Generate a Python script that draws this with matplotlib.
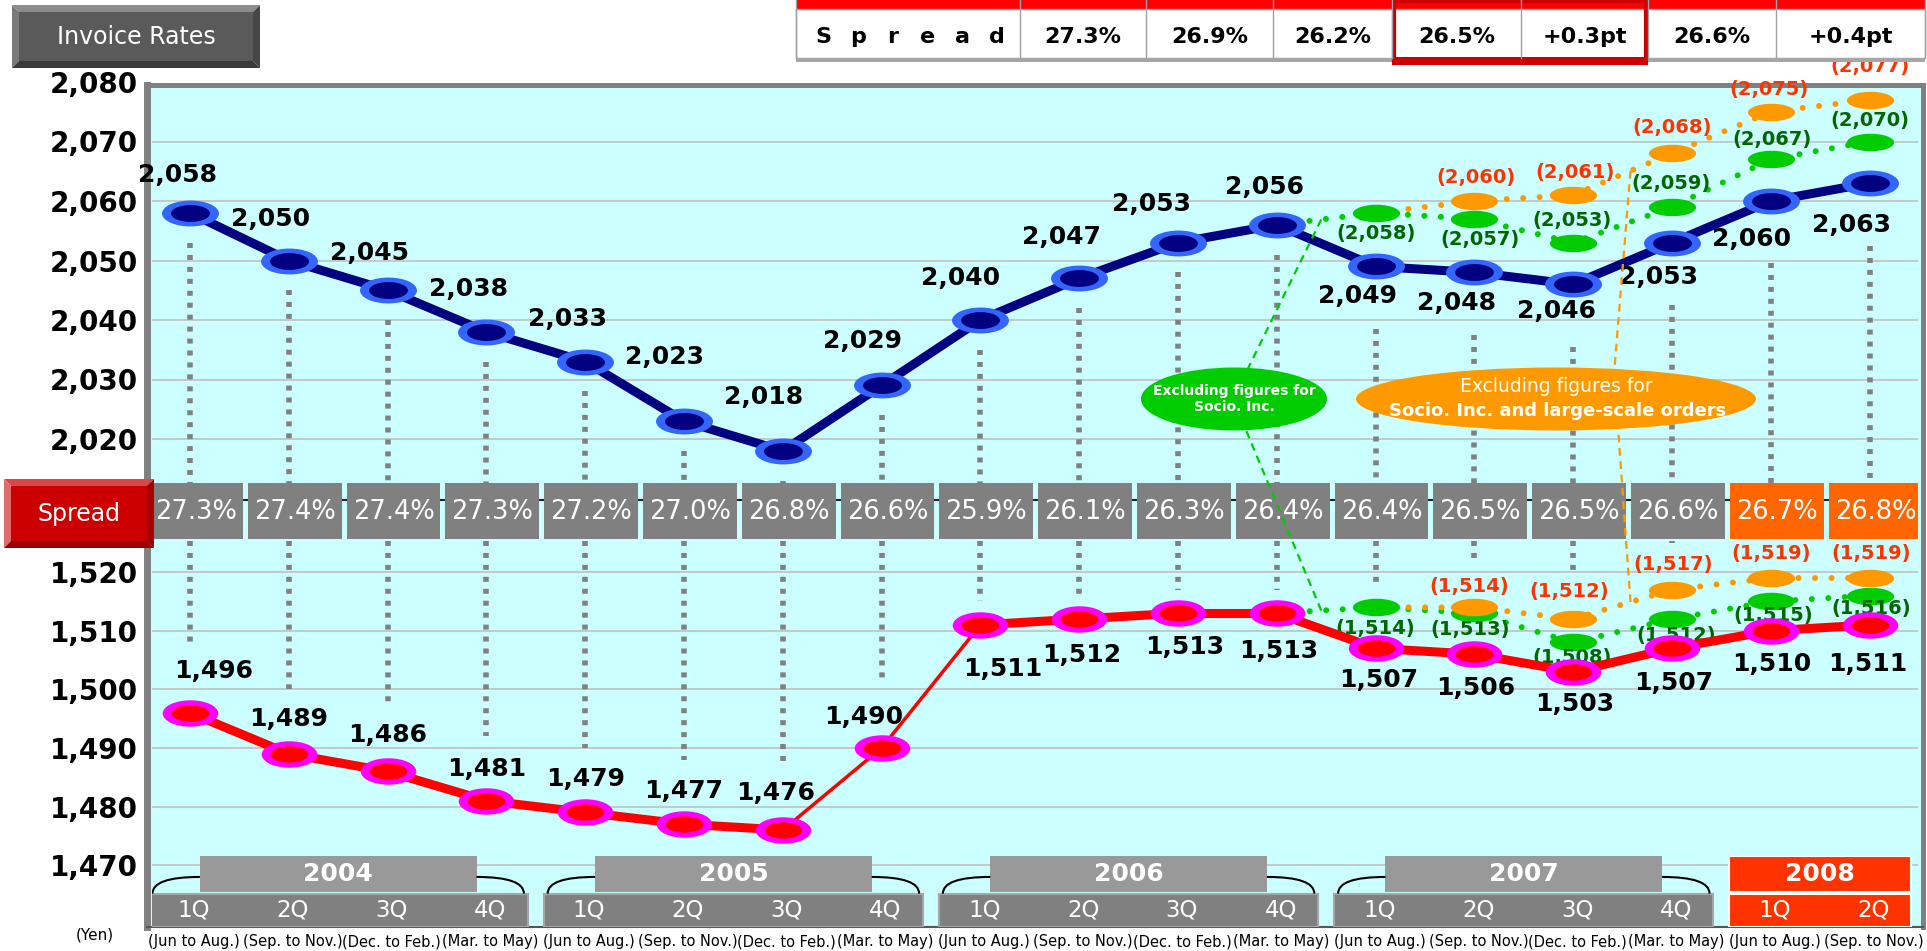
import numpy as np
import matplotlib
matplotlib.use("Agg")
import matplotlib.pyplot as plt
from matplotlib.patches import Rectangle, Ellipse, Polygon, PathPatch
from matplotlib.path import Path
from matplotlib.transforms import Affine2D
from matplotlib.collections import LineCollection

plt.rcParams["font.family"] = ["DejaVu Sans"]

# ---------------- data ----------------
years = ["2004", "2005", "2006", "2007", "2008"]
quarters_per_year = [4, 4, 4, 4, 2]
quarter_names = ["1Q", "2Q", "3Q", "4Q"]
month_names = ["(Jun to Aug.)", "(Sep. to Nov.)", "(Dec. to Feb.)", "(Mar. to May)"]

invoice_rate = [2058, 2050, 2045, 2038, 2033, 2023, 2018, 2029, 2040,
                2047, 2053, 2056, 2049, 2048, 2046, 2053, 2060, 2063]
cost_rate = [1496, 1489, 1486, 1481, 1479, 1477, 1476, 1490, 1511,
             1512, 1513, 1513, 1507, 1506, 1503, 1507, 1510, 1511]
spread = ["27.3%", "27.4%", "27.4%", "27.3%", "27.2%", "27.0%", "26.8%", "26.6%", "25.9%",
          "26.1%", "26.3%", "26.4%", "26.4%", "26.5%", "26.5%", "26.6%", "26.7%", "26.8%"]

# green: excluding Socio. Inc.; orange: excluding Socio. Inc. and large-scale orders
# (first entry = point the dotted line starts from, no oval drawn there)
ex_socio_q = [11, 12, 13, 14, 15, 16, 17]
ex_socio_invoice = [2056, 2058, 2057, 2053, 2059, 2067, 2070]
ex_socio_cost = [1513, 1514, 1513, 1508, 1512, 1515, 1516]
ex_large_q = [12, 13, 14, 15, 16, 17]
ex_large_invoice = [2058, 2060, 2061, 2068, 2075, 2077]
ex_large_cost = [1514, 1514, 1512, 1517, 1519, 1519]

table_values = ["27.3%", "26.9%", "26.2%", "26.5%", "+0.3pt", "26.6%", "+0.4pt"]

# label offsets (points)
invoice_lab = [(-9, 27), (-13, 30), (-13, 27), (-13, 31), (-13, 31), (-14, 46), (-14, 39),
               (-14, 32), (-14, 30), (-13, 30), (-19, 28), (-9, 27), (-13, -21), (-13, -22),
               (-12, -19), (-10, -25), (-14, -27), (-13, -30)]
cost_lab = [(17, 30), (0, 25), (0, 26), (0, 23), (0, 24), (0, 24), (-5, 27), (-13, 22),
            (16, -32), (2, -26), (5, -24), (1, -27), (2, -23), (1, -24), (1, -23), (1, -25),
            (1, -24), (-1, -28)]
ex_socio_inv_lab = [(0, -15), (4, -15), (-1, 16), (-1, 17), (1, 14), (0, 15)]
ex_large_inv_lab = [(1, 17), (1, 16), (0, 19), (-1, 16), (0, 24)]
ex_socio_cost_lab = [(0, -15), (-3, -12), (-1, -11), (3, -12), (2, -10), (1, -9)]
ex_large_cost_lab = [(-4, 15), (-3, 20), (1, 18), (0, 18), (1, 18)]

year_of = [y for y, n in zip(years, quarters_per_year) for _ in range(n)]
q_labels = [quarter_names[k] for n in quarters_per_year for k in range(n)]
m_labels = [month_names[k] for n in quarters_per_year for k in range(n)]
xs = np.arange(len(invoice_rate))

# ---------------- layout ----------------
W, H = 1927, 951
X0, PITCH = 190, 98.8
XL, XR = 152, 1918
XLIM = ((XL - X0) / PITCH, (XR - X0) / PITCH)

NAVY, LBLUE = "#000080", "#3366FF"
RED, MAGENTA = "#FF0000", "#FF00FF"
GREEN, ORANGE = "#00CC00", "#FF9900"
DGREEN, ORED = "#006600", "#FF3300"
GRAY = "#808080"

fig = plt.figure(figsize=(W / 100, H / 100), dpi=100)


def px_axes(left, top, right, bottom, z):
    ax = fig.add_axes([left / W, 1 - bottom / H, (right - left) / W, (bottom - top) / H])
    ax.set_zorder(z)
    return ax


def oval(ratio):
    return Path.unit_circle().transformed(Affine2D().scale(1.0, 1.0 / ratio))


# background frame
bg = px_axes(147, 84.5, 1922.5, 927, 0)
bg.set_facecolor("#CCFFFF")
bg.set_xticks([])
bg.set_yticks([])
bg.spines["left"].set_linewidth(5)
bg.spines["top"].set_linewidth(3.6)
bg.spines["right"].set_linewidth(3.6)
bg.spines["bottom"].set_linewidth(1.5)
for s in ["left", "top", "right"]:
    bg.spines[s].set_color(GRAY)
bg.spines["bottom"].set_color("#555555")

# upper (invoice) and lower (cost) panels
UP_REF, UP_PX, UP_SCALE = 2040, 320, 5.95
LO_REF, LO_PX, LO_SCALE = 1476, 830, 5.86
ax_up = px_axes(XL, 80, XR, 483, 1)
ax_lo = px_axes(XL, 541, XR, 927, 1)
ax_up.set_ylim(UP_REF - (483 - UP_PX) / UP_SCALE, UP_REF + (UP_PX - 80) / UP_SCALE)
ax_lo.set_ylim(LO_REF - (927 - LO_PX) / LO_SCALE, LO_REF + (LO_PX - 541) / LO_SCALE)

for ax, ticks, grid in [(ax_up, range(2020, 2081, 10), range(2020, 2071, 10)),
                        (ax_lo, range(1470, 1521, 10), range(1470, 1521, 10))]:
    ax.set_xlim(*XLIM)
    ax.patch.set_alpha(0)
    ax.set_xticks([])
    ax.set_yticks(list(ticks))
    ax.set_yticklabels([f"{v:,}" for v in ticks], fontsize=20, fontweight="bold")
    ax.tick_params(axis="y", length=0, pad=10)
    for s in ax.spines.values():
        s.set_visible(False)
    for g in grid:
        ax.axhline(g, color="#C0C0C0", lw=1.2, zorder=0)

gray_dots = dict(color=GRAY, lw=4, ls=(0, (0.9, 1.25)), dash_capstyle="butt", zorder=1)
green_dots = dict(color=GREEN, lw=4.3, ls=(0, (0.01, 2.75)), dash_capstyle="round", zorder=2)
orange_dots = dict(color=ORANGE, lw=4.3, ls=(0, (0.01, 2.75)), dash_capstyle="round", zorder=2)

# dotted guide lines
y_bot = ax_up.get_ylim()[0]
for i, v in enumerate(invoice_rate):
    gap = 10.5 if invoice_lab[i][1] < 0 else 5
    ax_up.plot([i, i], [v - gap, y_bot], **gray_dots)

y_top = ax_lo.get_ylim()[1]
for i, v in enumerate(cost_rate):
    vals = [v]
    if i in ex_socio_q[1:]:
        vals.append(ex_socio_cost[ex_socio_q.index(i)])
    if i in ex_large_q[1:]:
        vals.append(ex_large_cost[ex_large_q.index(i)])
        gap = 8
    elif cost_lab[i][1] > 0:
        gap = 11
    else:
        gap = 4
    end = max(vals) + gap
    if end < y_top:
        ax_lo.plot([i, i], [y_top, end], **gray_dots)

# excluded-figure series
for ax, qx, vals, labs, dots, col, tcol in [
        (ax_up, ex_socio_q, ex_socio_invoice, ex_socio_inv_lab, green_dots, GREEN, DGREEN),
        (ax_up, ex_large_q, ex_large_invoice, ex_large_inv_lab, orange_dots, ORANGE, ORED),
        (ax_lo, ex_socio_q, ex_socio_cost, ex_socio_cost_lab, green_dots, GREEN, DGREEN),
        (ax_lo, ex_large_q, ex_large_cost, ex_large_cost_lab, orange_dots, ORANGE, ORED)]:
    ax.plot(qx, vals, **dots)
    ax.plot(qx[1:], vals[1:], ls="none", marker=oval(2.7), ms=34, mfc=col, mec="none", zorder=3)
    for x, v, off in zip(qx[1:], vals[1:], labs):
        ax.annotate(f"({v:,})", (x, v), xytext=off, textcoords="offset points",
                    ha="center", va="center", fontsize=14, fontweight="bold", color=tcol,
                    zorder=3.5, annotation_clip=False)

# main series
ax_up.plot(xs, invoice_rate, color=NAVY, lw=6.5, solid_joinstyle="round", zorder=4)
ax_up.plot(xs, invoice_rate, ls="none", marker=oval(2.2), ms=41, mfc=LBLUE, mec="none", zorder=5)
ax_up.plot(xs, invoice_rate, ls="none", marker=oval(2.3), ms=28, mfc=NAVY, mec="none", zorder=5)

segs = [[(i, cost_rate[i]), (i + 1, cost_rate[i + 1])] for i in range(len(cost_rate) - 1)]
widths = [2.5 if abs(cost_rate[i + 1] - cost_rate[i]) >= 12 else 6.5 for i in range(len(segs))]
ax_lo.add_collection(LineCollection(segs, colors=RED, linewidths=widths, capstyle="round", zorder=4))
ax_lo.plot(xs, cost_rate, ls="none", marker=oval(2.1), ms=40, mfc=MAGENTA, mec="none", zorder=5)
ax_lo.plot(xs, cost_rate, ls="none", marker=oval(2.3), ms=27, mfc=RED, mec="none", zorder=5)

for ax, vals, labs in [(ax_up, invoice_rate, invoice_lab), (ax_lo, cost_rate, cost_lab)]:
    for i, (v, off) in enumerate(zip(vals, labs)):
        ax.annotate(f"{v:,}", (i, v), xytext=off, textcoords="offset points",
                    ha="center", va="center", fontsize=18, fontweight="bold", color="black",
                    zorder=6, annotation_clip=False)

# spread band
ax_band = px_axes(XL, 483, XR, 541, 2)
ax_band.set_xlim(*XLIM)
ax_band.set_ylim(0, 1)
ax_band.axis("off")
ax_band.axhline(0.7, color="#222222", lw=1.5, zorder=1)
for i, s in enumerate(spread):
    col = "#FF6600" if year_of[i] == "2008" else GRAY
    ax_band.add_patch(Rectangle((i + 0.06 - 0.475, 0.03), 0.95, 0.97, fc=col, ec="none", zorder=2))
    ax_band.text(i + 0.06, 0.5, s, color="white", fontsize=18.5, ha="center", va="center", zorder=3)

# year / quarter category boxes
ax_cat = px_axes(XL, 856, XR, 927, 3)
ax_cat.set_xlim(*XLIM)
ax_cat.set_ylim(0, 1)
ax_cat.axis("off")
start = 0
for yr, n in zip(years, quarters_per_year):
    c = start + (n - 1) / 2
    qw = n - 0.16
    yw = min(2.8, qw)
    hot = yr == "2008"
    qcol = ORED if hot else GRAY
    ycol = ORED if hot else "#999999"
    ax_cat.add_patch(Rectangle((c - qw / 2, 0), qw, 0.47, fc=qcol,
                               ec="white" if hot else "#A6A6A6", lw=1.5))
    ax_cat.add_patch(Rectangle((c - yw / 2, 0.5), yw, 0.5, fc=ycol, ec="white" if hot else "none", lw=1.5))
    ax_cat.text(c, 0.75, yr, color="white", fontsize=18, fontweight="bold", ha="center", va="center")
    for i in range(start, start + n):
        ax_cat.text(i + 0.04, 0.235, q_labels[i], color="white", fontsize=16.5, ha="center", va="center")
        ax_cat.text(i + 0.04, -0.21, m_labels[i], color="black", fontsize=10.5, ha="center", va="center")
    if n == 4:
        ql, qr = c - qw / 2 + 0.04, c + qw / 2 - 0.04
        yl, yr_ = c - yw / 2, c + yw / 2
        for verts in ([(ql, 0.47), (ql, 0.705), (yl, 0.705)], [(yr_, 0.705), (qr, 0.705), (qr, 0.47)]):
            ax_cat.add_patch(PathPatch(Path(verts, [Path.MOVETO, Path.CURVE3, Path.CURVE3]),
                                       fc="none", ec="black", lw=1.5))
    start += n

# overlay in pixel coordinates
ov = fig.add_axes([0, 0, 1, 1])
ov.set_zorder(10)
ov.set_xlim(0, W)
ov.set_ylim(H, 0)
ov.axis("off")
ov.patch.set_alpha(0)


def to_px(ax, x, y):
    px, py = ax.transData.transform((x, y))
    return px, H - py


# callouts
dash = dict(lw=1.6, ls=(0, (3.5, 2.5)), zorder=1)
gx = 11.45
for ax, vals in [(ax_up, ex_socio_invoice), (ax_lo, ex_socio_cost)]:
    tx, ty = to_px(ax, gx, np.interp(gx, ex_socio_q, vals))
    ov.plot([tx, 1233], [ty, 399], color=GREEN, **dash)
ox = 14.58
for ax, vals, ex in [(ax_up, ex_large_invoice, 1612), (ax_lo, ex_large_cost, 1616)]:
    tx, ty = to_px(ax, ox, np.interp(ox, ex_large_q, vals))
    ov.plot([tx, ex], [ty, 399], color=ORANGE, **dash)

ov.add_patch(Ellipse((1234, 399), 186, 63, fc=GREEN, ec="none", zorder=2))
ov.text(1234, 399, "Excluding figures for\nSocio. Inc.", color="white", fontsize=10,
        fontweight="bold", ha="center", va="center", linespacing=1.15, zorder=3)
ov.add_patch(Ellipse((1556, 399), 400, 63, fc=ORANGE, ec="none", zorder=2))
ov.text(1556, 386, "Excluding figures for", color="white", fontsize=13.5, ha="center", va="center", zorder=3)
ov.text(1558, 411, "Socio. Inc. and large-scale orders", color="white", fontsize=13,
        fontweight="bold", ha="center", va="center", zorder=3)


def bevel_button(l, t, r, b, bw, face, top, left, bottom, right, label):
    ov.add_patch(Polygon([(l, t), (r, t), (r - bw, t + bw), (l + bw, t + bw)], fc=top, ec="none"))
    ov.add_patch(Polygon([(l, t), (l + bw, t + bw), (l + bw, b - bw), (l, b)], fc=left, ec="none"))
    ov.add_patch(Polygon([(l, b), (l + bw, b - bw), (r - bw, b - bw), (r, b)], fc=bottom, ec="none"))
    ov.add_patch(Polygon([(r, t), (r, b), (r - bw, b - bw), (r - bw, t + bw)], fc=right, ec="none"))
    ov.add_patch(Rectangle((l + bw, t + bw), r - l - 2 * bw, b - t - 2 * bw, fc=face, ec="none"))
    ov.text((l + r) / 2, (t + b) / 2, label, color="white", fontsize=17, ha="center", va="center")


bevel_button(12, 5, 260, 68, 7, "#5A5A5A", "#8C8C8C", "#7A7A7A", "#3A3A3A", "#464646", "Invoice Rates")
bevel_button(4, 479, 154, 548, 7, "#CC0000", "#D94848", "#E06B6B", "#990000", "#A30000", "Spread")

# top spread table
edges = [796, 1020, 1146, 1273, 1392, 1521, 1648, 1776, 1925]
ov.add_patch(Rectangle((edges[0], 0), edges[-1] - edges[0], 9, fc="#FF0000", ec="none"))
ov.add_patch(Rectangle((edges[0], 9), edges[-1] - edges[0], 49, fc="white", ec="#A0A0A0", lw=1))
ov.add_patch(Rectangle((edges[0], 58), edges[-1] - edges[0], 4, fc="#A6A6A6", ec="none"))
for e in edges:
    ov.plot([e, e], [0, 58], color="#A0A0A0", lw=1)
for k, ch in enumerate("Spread"):
    ov.text(823 + k * 34.8, 37, ch, fontsize=16, fontweight="bold", ha="center", va="center")
for k, val in enumerate(table_values):
    ov.text((edges[k + 1] + edges[k + 2]) / 2, 37, val, fontsize=16, fontweight="bold",
            ha="center", va="center")
ov.add_patch(Rectangle((1394, 1), 1646 - 1394, 60, fill=False, ec="#CC0000", lw=3))
ov.add_patch(Rectangle((1392, 57), 1648 - 1392, 8, fc="#CC0000", ec="none"))

ov.text(95, 935, "(Yen)", fontsize=11, ha="center", va="center")

fig.savefig("out.png", dpi=100)
